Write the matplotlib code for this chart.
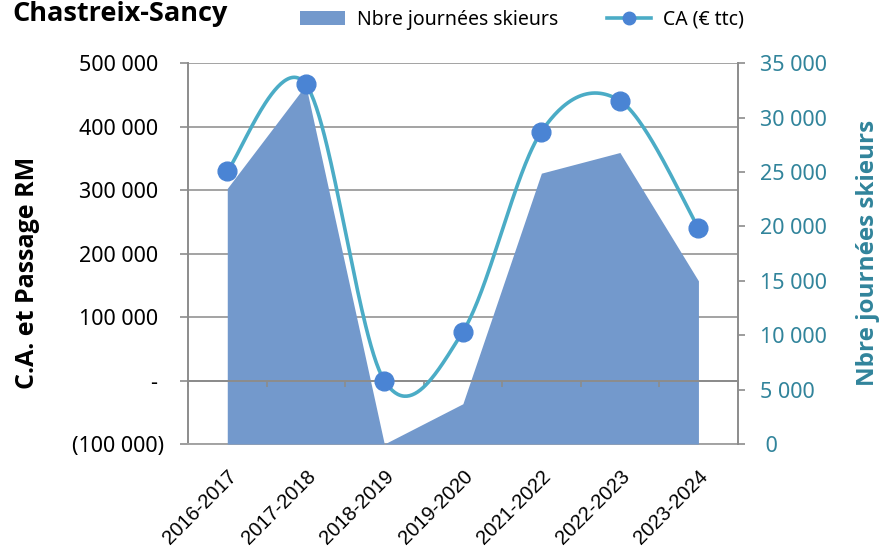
import numpy as np
import matplotlib
matplotlib.use("Agg")
import matplotlib.pyplot as plt
from matplotlib import font_manager
from matplotlib.lines import Line2D
from matplotlib.patches import Patch
from matplotlib.ticker import FuncFormatter, FixedLocator
from matplotlib.transforms import ScaledTranslation

# ---------------- data ----------------
seasons = ["2016-2017", "2017-2018", "2018-2019", "2019-2020",
           "2021-2022", "2022-2023", "2023-2024"]
skier_days = [23500, 33000, 0, 3700, 24900, 26800, 15000]        # right axis (area)
revenue = [330700, 466900, 0, 77000, 392200, 441100, 240900]     # left axis (line)

title = "Chastreix-Sancy"
left_label = "C.A. et Passage RM"
right_label = "Nbre journées skieurs"
legend_area = "Nbre journées skieurs"
legend_line = "CA (€ ttc)"

left_ticks = [-100000, 0, 100000, 200000, 300000, 400000, 500000]
right_ticks = [0, 5000, 10000, 15000, 20000, 25000, 30000, 35000]

# ---------------- style ----------------
AREA = "#7399CC"
LINE = "#4BACC6"
MARK = "#4A84D4"
TEAL = "#31849B"
GRID = "#A3A3A3"
SPINE = "#8C8C8C"

plt.rcParams["font.family"] = ["Noto Sans", "DejaVu Sans"]


def _w(f):
    w = f.weight
    if isinstance(w, str):
        return 700 if "bold" in w.lower() else 400
    return w


def bold_family():
    for fam in ["Noto Sans", "Open Sans", "Lato", "Roboto", "DejaVu Sans"]:
        for f in font_manager.fontManager.ttflist:
            if f.name == fam and _w(f) >= 600 and f.style == "normal":
                return fam
    return "DejaVu Sans"


BOLD = [bold_family(), "DejaVu Sans"]

W, H = 885, 547
fig = plt.figure(figsize=(W / 100, H / 100), dpi=100)
fig.patch.set_facecolor("white")

L, R, T, B = 188, 737.7, 63.3, 444
rect = [L / W, 1 - B / H, (R - L) / W, (B - T) / H]

x = np.arange(len(seasons))


def smooth(xs, ys, n=60):
    P = np.column_stack([xs, ys]).astype(float)
    ext = np.vstack([P[0], P, P[-1]])
    out = []
    t = np.linspace(0, 1, n)[:, None]
    for i in range(len(P) - 1):
        p0, p1, p2, p3 = ext[i], ext[i + 1], ext[i + 2], ext[i + 3]
        c1 = p1 + (p2 - p0) / 6
        c2 = p2 - (p3 - p1) / 6
        seg = (1 - t) ** 3 * p1 + 3 * (1 - t) ** 2 * t * c1 + 3 * (1 - t) * t ** 2 * c2 + t ** 3 * p2
        out.append(seg if i == 0 else seg[1:])
    return np.vstack(out)


def fmt_left(v, pos):
    if v < 0:
        return "(" + f"{-v:,.0f}".replace(",", " ") + ")"
    if v == 0:
        return "- "
    return f"{v:,.0f}".replace(",", " ") + " "


def fmt_right(v, pos):
    if v == 0:
        return " 0"
    return f"{v:,.0f}".replace(",", " ")


# ---- base axes: grid, left axis, category labels
ax = fig.add_axes(rect, zorder=1)
ax.set_xlim(-0.5, len(seasons) - 0.5)
ax.set_ylim(left_ticks[0], left_ticks[-1])
ax.yaxis.set_major_locator(FixedLocator(left_ticks))
ax.yaxis.set_major_formatter(FuncFormatter(fmt_left))
ax.grid(axis="y", color=GRID, linewidth=1.4)
ax.set_axisbelow(True)
ax.tick_params(axis="y", direction="out", length=5.8, width=1.2, color=SPINE,
               pad=11.5, labelsize=15.5, labelcolor="black")
ax.set_xticks(x)
ax.set_xticklabels(seasons, rotation=45, ha="right", va="top", rotation_mode="anchor",
                   fontsize=14.5, family=["Liberation Sans", "DejaVu Sans"])
shift = ScaledTranslation(-4 / 100, 0, fig.dpi_scale_trans)
for lab in ax.get_xticklabels():
    lab.set_transform(lab.get_transform() + shift)
ax.xaxis.set_minor_locator(FixedLocator(np.arange(len(seasons) + 1) - 0.5))
ax.tick_params(axis="x", which="both", length=0, pad=16.5)
for s in ["top", "right"]:
    ax.spines[s].set_visible(False)
ax.spines["left"].set_color(SPINE)
ax.spines["left"].set_linewidth(1.4)
ax.spines["bottom"].set_color(GRID)
ax.spines["bottom"].set_linewidth(1.4)

# ---- area axes (right scale)
ax2 = ax.twinx()
ax2.set_zorder(2)
ax2.patch.set_visible(False)
ax2.set_ylim(right_ticks[0], right_ticks[-1])
ax2.fill_between(x, skier_days, 0, color=AREA, linewidth=0)
ax2.yaxis.set_major_locator(FixedLocator(right_ticks))
ax2.yaxis.set_major_formatter(FuncFormatter(fmt_right))
ax2.tick_params(axis="y", direction="out", length=5.2, width=1.2, color=SPINE,
                pad=10.5, labelsize=15.5, labelcolor=TEAL)
for lab in ax2.get_yticklabels():
    lab.set_horizontalalignment("left")
for s in ["top", "left", "bottom"]:
    ax2.spines[s].set_visible(False)
ax2.spines["right"].set_color(SPINE)
ax2.spines["right"].set_linewidth(1.4)

# ---- line axes (left scale), with horizontal axis crossing at 0
ax3 = fig.add_axes(rect, sharex=ax, sharey=ax, zorder=3)
ax3.patch.set_visible(False)
for s in ["top", "left", "right"]:
    ax3.spines[s].set_visible(False)
ax3.spines["bottom"].set_position(("data", 0))
ax3.spines["bottom"].set_color(SPINE)
ax3.spines["bottom"].set_linewidth(1.4)
ax3.tick_params(axis="y", left=False, labelleft=False)
ax3.tick_params(axis="x", which="major", length=0, labelbottom=False)
ax3.tick_params(axis="x", which="minor", direction="out", length=4.5, width=1.2,
                color=SPINE, labelbottom=False)

curve = smooth(x, revenue)
ax3.plot(curve[:, 0], curve[:, 1], color=LINE, linewidth=2.6, solid_capstyle="round", zorder=3)
ax3.plot(x, revenue, linestyle="none", marker="o", markersize=13.5,
         markerfacecolor=MARK, markeredgecolor=MARK, zorder=4)

# ---- texts
fig.text(12 / W, 1 - 21 / H, title, fontsize=19.5, fontweight="bold", family=BOLD,
         va="baseline", ha="left")
fig.text(28 / W, 1 - 273 / H, left_label, rotation=90, fontsize=18, fontweight="bold",
         family=BOLD, ha="center", va="center")
fig.text(868 / W, 1 - 252.5 / H, right_label, rotation=90, fontsize=17.5, fontweight="bold",
         family=BOLD, color=TEAL, ha="center", va="center")

handles = [Patch(facecolor=AREA, edgecolor="none"),
           Line2D([], [], color=LINE, linewidth=2.6, marker="o", markersize=9,
                  markerfacecolor=MARK, markeredgecolor=MARK)]
fig.legend(handles, [legend_area, legend_line], loc="center left",
           bbox_to_anchor=(300 / W, 1 - 20 / H), ncol=2, frameon=False, fontsize=14,
           handlelength=2.3, handleheight=0.7, handletextpad=0.62, columnspacing=2.5,
           borderpad=0, borderaxespad=0)

fig.savefig("out.png", dpi=100, facecolor="white")
